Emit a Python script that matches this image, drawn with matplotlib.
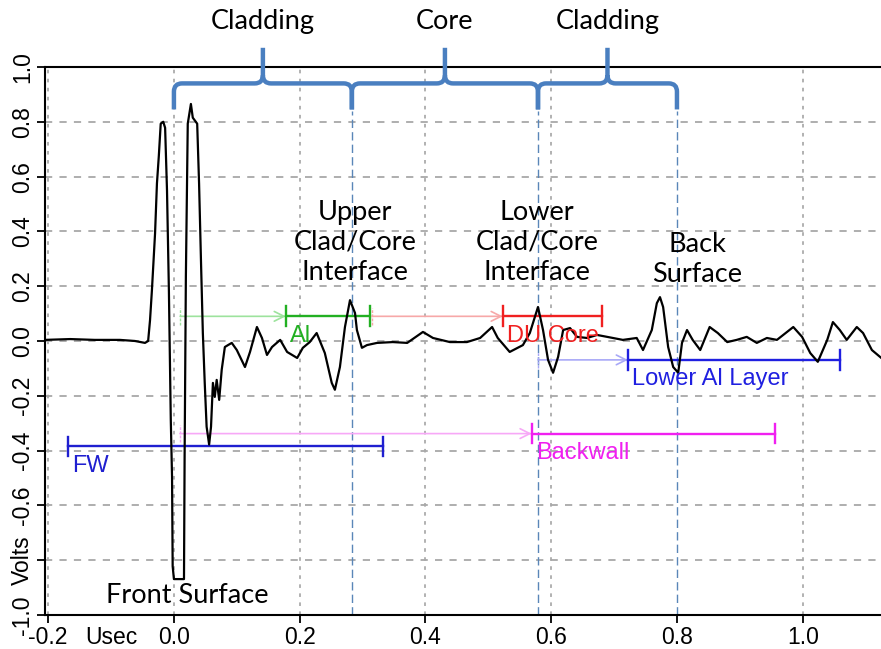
import matplotlib
matplotlib.use("Agg")
import matplotlib.pyplot as plt
from matplotlib.path import Path
from matplotlib.patches import PathPatch

# A-scan trace (usec, volts)
t_us = [-0.205, -0.165, -0.126, -0.086, -0.062, -0.046, -0.041, -0.038, -0.035, -0.030,
        -0.027, -0.024, -0.021, -0.017, -0.014, -0.011, -0.008, -0.005, -0.003, -0.002,
        0.000, 0.016, 0.017, 0.019, 0.022, 0.027, 0.030, 0.037, 0.040, 0.043,
        0.046, 0.049, 0.052, 0.056, 0.059, 0.062, 0.065, 0.068, 0.072, 0.076,
        0.081, 0.086, 0.092, 0.100, 0.113, 0.121, 0.132, 0.140, 0.148, 0.156,
        0.169, 0.180, 0.196, 0.205, 0.216, 0.227, 0.240, 0.251, 0.256, 0.264,
        0.272, 0.280, 0.288, 0.291, 0.299, 0.307, 0.323, 0.348, 0.371, 0.396,
        0.412, 0.439, 0.466, 0.487, 0.506, 0.515, 0.534, 0.555, 0.566, 0.579,
        0.587, 0.595, 0.603, 0.611, 0.619, 0.630, 0.641, 0.657, 0.673, 0.689,
        0.714, 0.736, 0.746, 0.760, 0.768, 0.773, 0.778, 0.786, 0.794, 0.802,
        0.808, 0.816, 0.825, 0.837, 0.852, 0.865, 0.880, 0.895, 0.911, 0.927,
        0.943, 0.959, 0.985, 0.999, 1.012, 1.024, 1.039, 1.048, 1.059, 1.070,
        1.086, 1.096, 1.110, 1.125]
volts = [0.004, 0.007, 0.004, 0.004, 0.000, -0.007, 0.000, 0.076, 0.185, 0.393,
         0.575, 0.676, 0.793, 0.800, 0.778, 0.549, 0.185, -0.287, -0.495, -0.822,
         -0.869, -0.869, -0.422, 0.233, 0.793, 0.865, 0.815, 0.793, 0.575, 0.295,
         0.029, -0.153, -0.313, -0.378, -0.313, -0.153, -0.204, -0.142, -0.215, -0.105,
         -0.022, -0.015, -0.007, -0.033, -0.095, -0.040, 0.051, 0.011, -0.051, -0.022,
         0.004, -0.040, -0.062, -0.025, -0.004, 0.029, -0.044, -0.153, -0.178, -0.095,
         0.051, 0.149, 0.102, 0.040, -0.025, -0.015, -0.007, -0.004, -0.007, 0.033,
         0.011, -0.004, -0.004, 0.011, 0.051, 0.011, -0.040, -0.015, 0.029, 0.124,
         0.040, -0.069, -0.116, -0.058, 0.040, 0.047, 0.015, 0.011, 0.022, 0.015,
         0.004, 0.011, -0.033, 0.040, 0.138, 0.160, 0.124, -0.022, -0.095, -0.116,
         -0.007, 0.040, 0.004, -0.033, 0.051, 0.029, -0.004, 0.004, 0.015, -0.007,
         0.011, 0.004, 0.051, 0.015, -0.044, -0.076, 0.004, 0.069, 0.040, 0.004,
         0.051, 0.029, -0.033, -0.062]

xtick_vals = [-0.2, -0.1, 0.0, 0.2, 0.4, 0.6, 0.8, 1.0]
xtick_labels = ["-0.2", "Usec", "0.0", "0.2", "0.4", "0.6", "0.8", "1.0"]
ytick_vals = [-1.0, -0.8, -0.6, -0.4, -0.2, 0.0, 0.2, 0.4, 0.6, 0.8, 1.0]
ytick_labels = ["-1.0", "Volts", "-0.6", "-0.4", "-0.2", "0.0", "0.2", "0.4", "0.6", "0.8", "1.0"]

# layer boundaries (usec) and names
boundaries = [0.0, 0.283, 0.579, 0.80]
layer_names = ["Cladding", "Core", "Cladding"]

# gates
gate_names = ["Al", "DU Core", "Lower Al Layer", "Backwall", "FW"]
gate_lead = [0.010, 0.315, 0.579, 0.0095, None]
gate_start = [0.178, 0.523, 0.722, 0.569, -0.169]
gate_end = [0.312, 0.681, 1.059, 0.956, 0.332]
gate_level = [0.09, 0.09, -0.069, -0.338, -0.385]
gate_colors = ["#22b022", "#f02020", "#1f1fe0", "#f020f0", "#1f1fd0"]
gate_faint = ["#9de39d", "#f7a8a8", "#a8a8f7", "#f7a8f7", None]

fig = plt.figure(figsize=(8.81, 6.49), dpi=100)
ax = fig.add_axes([0.0511, 0.0524, 0.9489, 0.8444])
ax.set_xlim(-0.205, 1.1245)
ax.set_ylim(-1.0, 1.0)

# grid
for gx in [-0.2, 0.0, 0.2, 0.4, 0.6, 1.0]:
    ax.axvline(gx, color="#ababab", lw=1.3, ls=(0, (2, 3)), zorder=0)
for gy in [-0.8, -0.6, -0.4, -0.2, 0.0, 0.2, 0.4, 0.6, 0.8]:
    ax.axhline(gy, color="#a8a8a8", lw=1.3, ls=(0, (4, 4)), zorder=0)

# interface lines
for b in boundaries[1:]:
    ax.plot([b, b], [-1.0, 0.84], color="#5a86b8", lw=1.0, ls=(0, (6, 3)), zorder=1)

# gates
cap = 0.036
for i in range(len(gate_names)):
    y = gate_level[i]
    c = gate_colors[i]
    if gate_lead[i] is not None:
        fc = gate_faint[i]
        ax.annotate("", xy=(gate_start[i], y), xytext=(gate_lead[i], y),
                    arrowprops=dict(arrowstyle="->,head_length=0.7,head_width=0.35",
                                    color=fc, lw=1.2, shrinkA=0, shrinkB=0), zorder=2)
        ax.plot([gate_lead[i]] * 2, [y - 0.03, y + 0.03], color=fc, lw=1.0, ls=(0, (2, 1)), zorder=2)
    ax.plot([gate_start[i], gate_end[i]], [y, y], color=c, lw=1.7, zorder=2)
    for xe in (gate_start[i], gate_end[i]):
        ax.plot([xe, xe], [y - cap, y + cap], color=c, lw=1.7, zorder=2)
    ax.annotate(gate_names[i], xy=(gate_start[i], y), xytext=(3, -14), textcoords="offset points",
                color=c, fontsize=17, family="Liberation Sans", va="center", ha="left", zorder=4)

# waveform
ax.plot(t_us, volts, color="black", lw=1.6, zorder=3)

# braces above the layers
bcol = "#4a7fc0"
yb, yh, yt = 0.845, 0.94, 1.07
rx, ry = 0.013, 0.03
for i in range(len(layer_names)):
    x0, x1 = boundaries[i], boundaries[i + 1]
    m = (x0 + x1) / 2
    verts = [(x0, yb), (x0, yh - ry), (x0, yh), (x0 + rx, yh), (m - rx, yh), (m, yh), (m, yh + ry), (m, yt),
             (m, yh + ry), (m, yh), (m + rx, yh), (x1 - rx, yh), (x1, yh), (x1, yh - ry), (x1, yb)]
    codes = [Path.MOVETO, Path.LINETO, Path.CURVE3, Path.CURVE3, Path.LINETO, Path.CURVE3, Path.CURVE3, Path.LINETO,
             Path.MOVETO, Path.CURVE3, Path.CURVE3, Path.LINETO, Path.CURVE3, Path.CURVE3, Path.LINETO]
    ax.add_patch(PathPatch(Path(verts, codes), fill=False, edgecolor=bcol, lw=3.2,
                           capstyle="butt", joinstyle="round", clip_on=False, zorder=5))
    ax.text(m, 1.167, layer_names[i], ha="center", va="center", fontsize=19.5, family="Lato", clip_on=False)

# echo labels
txt = dict(fontsize=19.5, family="Lato", ha="center", va="center", linespacing=1.25, zorder=4)
ax.text(0.288, 0.36, "Upper\nClad/Core\nInterface", **txt)
ax.text(0.577, 0.36, "Lower\nClad/Core\nInterface", **txt)
ax.text(0.832, 0.296, "Back\nSurface", **txt)
ax.text(0.021, -0.93, "Front Surface", **txt)

# axes styling
for s in ["left", "bottom", "top"]:
    ax.spines[s].set_linewidth(1.5)
ax.spines["right"].set_visible(False)
ax.set_xticks(xtick_vals)
ax.set_xticklabels(xtick_labels, fontsize=16.5, family="Liberation Sans")
ax.set_yticks(ytick_vals)
ax.set_yticklabels(ytick_labels, fontsize=16.5, family="Liberation Sans")
ax.tick_params(axis="both", length=6, width=1.3, pad=2)
ax.xaxis.get_major_ticks()[1].tick1line.set_visible(False)
for lab in ax.get_yticklabels():
    lab.set_rotation(90)
    lab.set_va("center")

fig.savefig("out.png", dpi=100)
